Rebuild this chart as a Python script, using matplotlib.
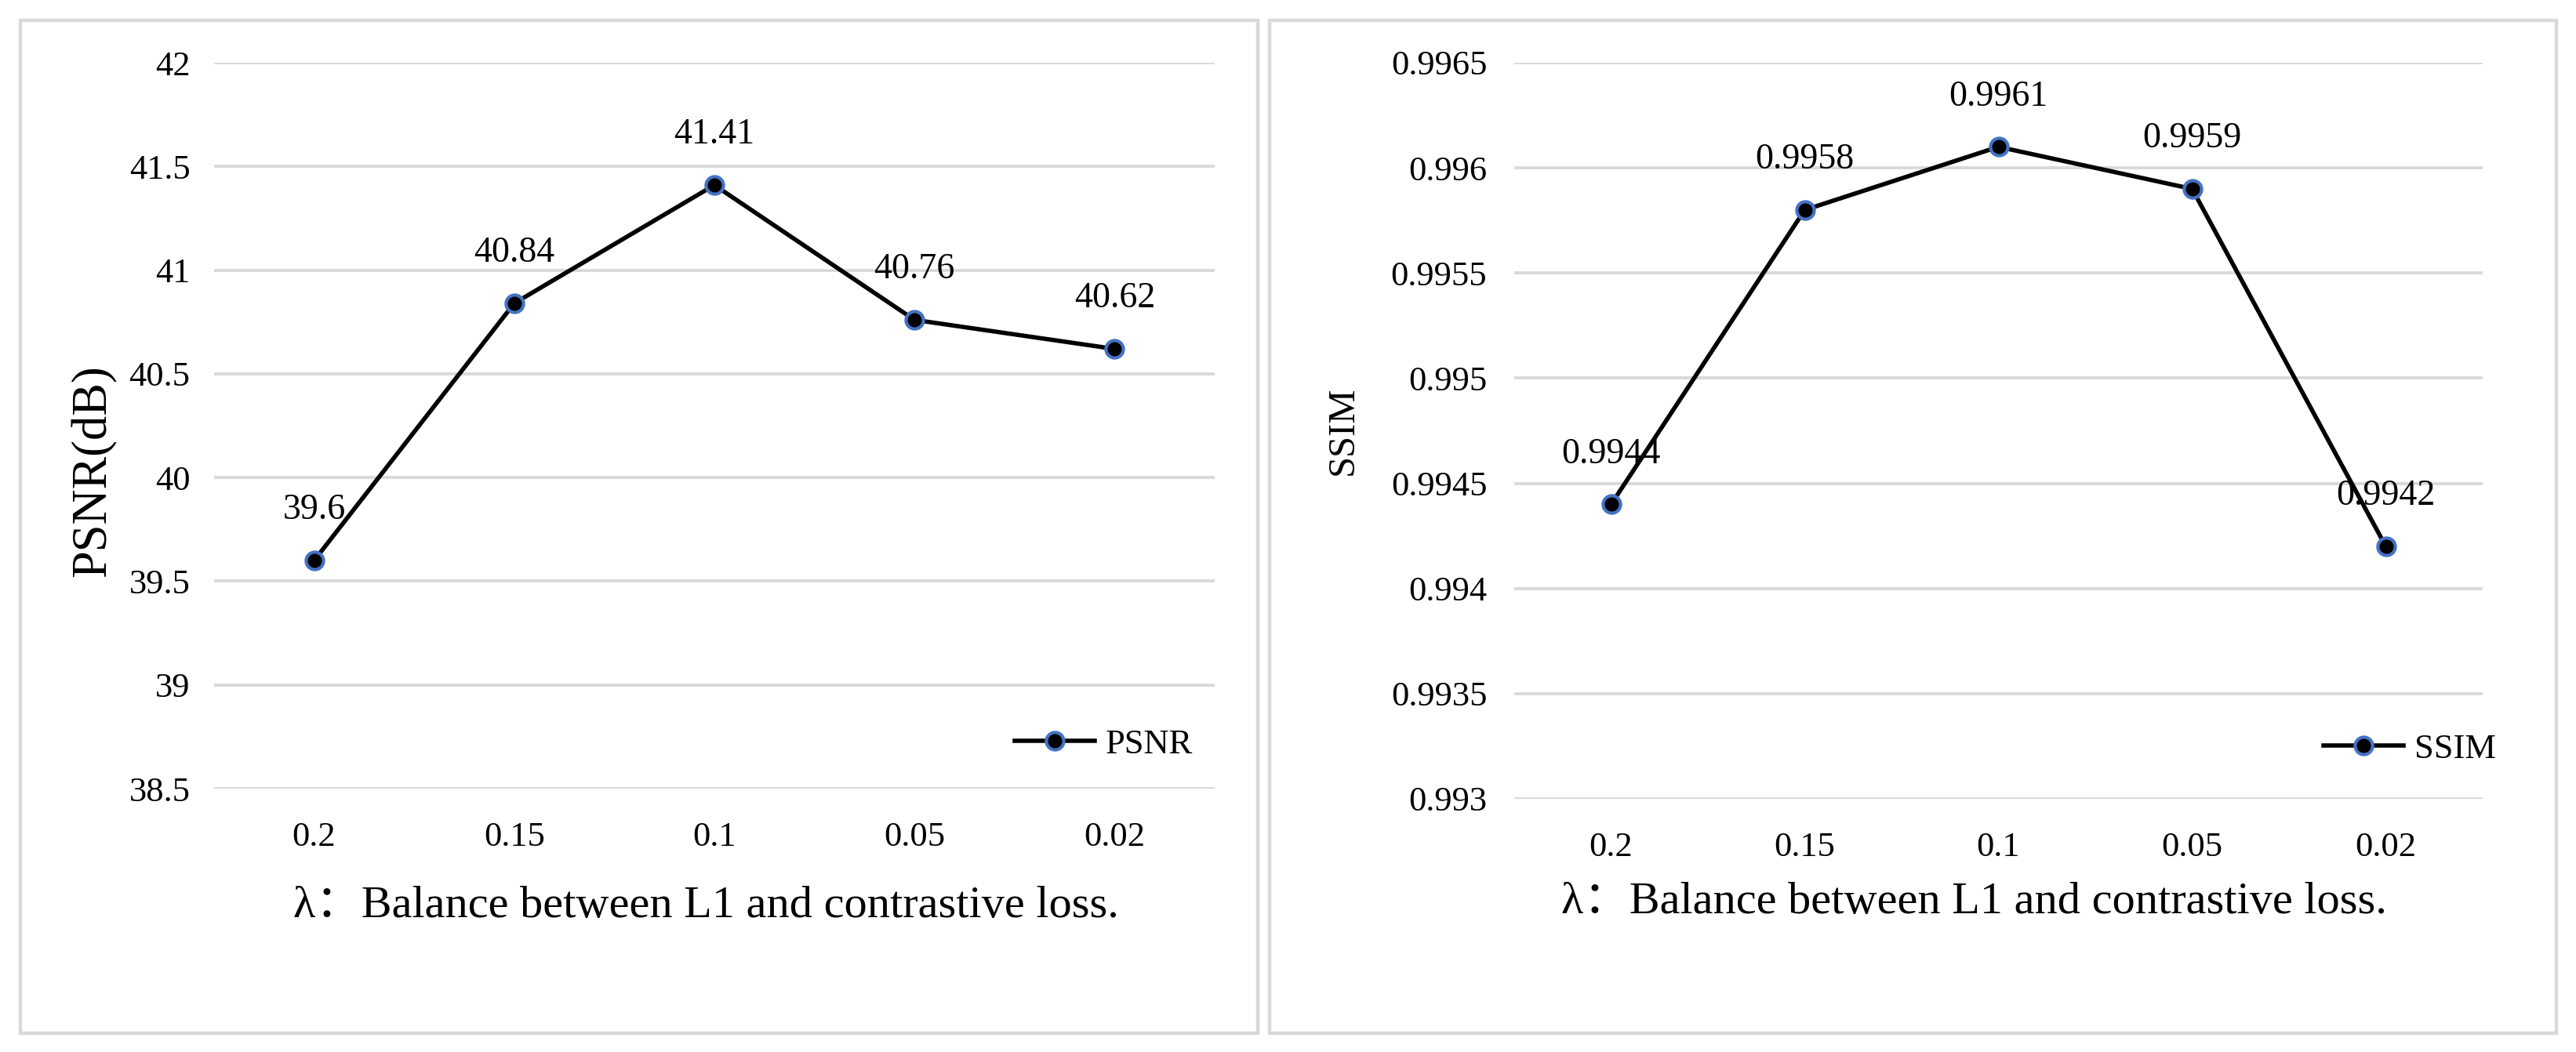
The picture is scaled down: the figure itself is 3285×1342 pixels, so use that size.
"""PSNR / SSIM versus lambda, two Excel-style line panels."""

import matplotlib
matplotlib.use('Agg')
import matplotlib.pyplot as plt
from matplotlib.patches import Rectangle

# data
LAMBDAS = ['0.2', '0.15', '0.1', '0.05', '0.02']
PSNR = [39.6, 40.84, 41.41, 40.76, 40.62]
SSIM = [0.9944, 0.9958, 0.9961, 0.9959, 0.9942]
PSNR_TICKS = [38.5, 39, 39.5, 40, 40.5, 41, 41.5, 42]
SSIM_TICKS = [0.993, 0.9935, 0.994, 0.9945, 0.995, 0.9955, 0.996, 0.9965]
XLABEL = 'λ：Balance between L1 and contrastive loss.'

GRID_COL = '#D9D9D9'
FRAME_COL = '#D9D9D9'
EDGE_BLUE = '#4472C4'

plt.rcParams['font.family'] = ['Liberation Serif', 'Noto Sans CJK SC', 'DejaVu Sans']

W, H, DPI = 3285, 1342, 100
fig = plt.figure(figsize=(W / DPI, H / DPI), dpi=DPI)
fig.patch.set_facecolor('white')

# panel frames (figure coords)
for x0, x1 in [(26, 1604), (1619, 3260)]:
    fig.patches.append(Rectangle((x0 / W, 1 - 1318 / H), (x1 - x0) / W,
                                 (1318 - 26) / H, transform=fig.transFigure,
                                 fill=False, edgecolor=FRAME_COL, lw=3.2,
                                 zorder=0))


def panel(rect, values, ticks, ylabel, ylabel_size, ylabel_xy, legend_xy,
          xlabel_xy, ytick_pad):
    ax = fig.add_axes(rect)
    x = list(range(len(LAMBDAS)))
    ax.set_xlim(-0.5, len(LAMBDAS) - 0.5)
    ax.set_ylim(ticks[0], ticks[-1])
    ax.set_yticks(ticks)
    ax.set_yticklabels(['{:g}'.format(t) for t in ticks])
    ax.set_xticks(x)
    ax.set_xticklabels(LAMBDAS)
    for s in ax.spines.values():
        s.set_visible(False)
    ax.tick_params(axis='y', length=0, pad=ytick_pad, labelsize=32)
    ax.tick_params(axis='x', length=0, pad=30, labelsize=32)
    ax.grid(axis='y', color=GRID_COL, lw=2.8)
    ax.set_axisbelow(True)

    ax.plot(x, values, color='black', lw=4.0, marker='o', markersize=16,
            markerfacecolor='black', markeredgecolor=EDGE_BLUE,
            markeredgewidth=3.0, label=ylabel.split('(')[0], zorder=3,
            clip_on=False)
    for xi, v in zip(x, values):
        ax.annotate('{:g}'.format(v), (xi, v), xytext=(0, 46),
                    textcoords='offset points', ha='center', va='center',
                    fontsize=33)

    ax.set_ylabel(ylabel, fontsize=ylabel_size)
    ax.yaxis.label.set_va('center')
    ax.yaxis.set_label_coords(*ylabel_xy)
    ax.set_xlabel(XLABEL, fontsize=42)
    ax.xaxis.label.set_va('center')
    ax.xaxis.set_label_coords(*xlabel_xy)

    ax.legend(loc='center left', bbox_to_anchor=legend_xy,
              bbox_transform=fig.transFigure, frameon=False, fontsize=32,
              borderpad=0, borderaxespad=0, handlelength=2.3,
              handletextpad=0.3)
    return ax


# left: PSNR
panel([273 / W, 1 - 1006 / H, (1549 - 273) / W, (1006 - 80) / H],
      PSNR, PSNR_TICKS, 'PSNR(dB)', 45, (-0.12, 0.438),
      (1294 / W, 1 - 950 / H), (0.492, -0.162), 22)

# right: SSIM
panel([1931 / W, 1 - 1019 / H, (3166 - 1931) / W, (1019 - 80) / H],
      SSIM, SSIM_TICKS, 'SSIM', 35, (-0.1765, 0.50),
      (2963 / W, 1 - 956 / H), (0.475, -0.141), 25)

fig.savefig('out.png', dpi=DPI, facecolor='white')
